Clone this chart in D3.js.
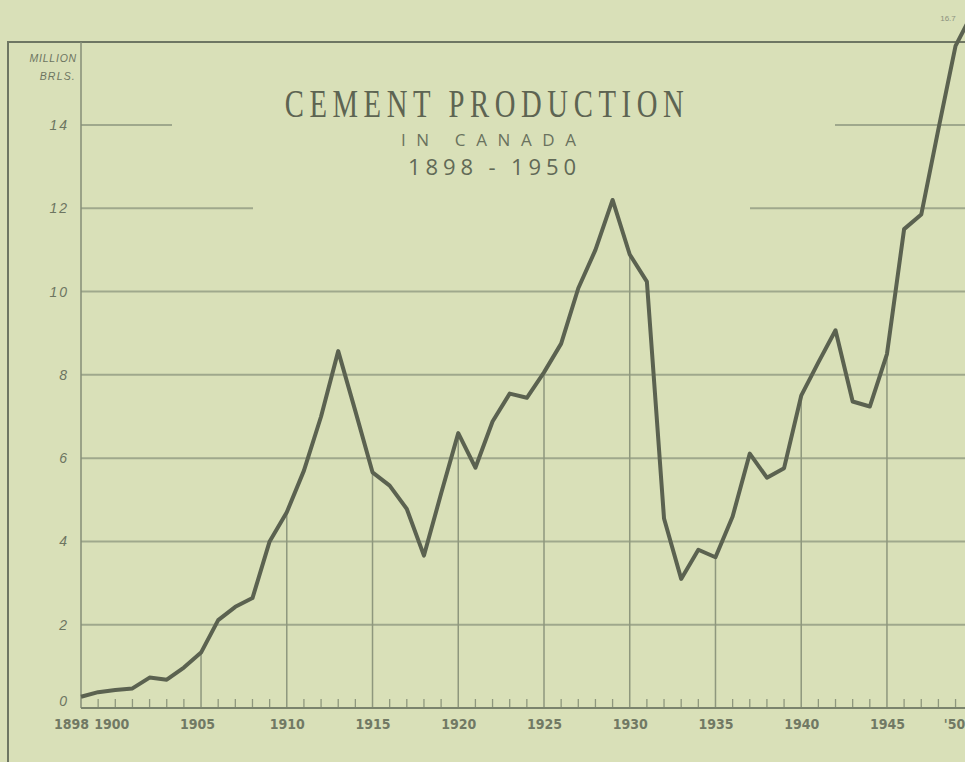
<!DOCTYPE html>
<html>
<head>
<meta charset="utf-8">
<script src="https://cdn.jsdelivr.net/npm/d3@7/dist/d3.min.js"></script>
<style>
  html, body { margin: 0; padding: 0; background: #d9e0b8; }
  svg { display: block; }
</style>
</head>
<body>
<div id="chart"></div>
<script>
// cement production, million barrels, one value per year 1898-1950
const years = d3.range(1898, 1951);
const production = [
  0.27, 0.38, 0.43, 0.47, 0.73, 0.68, 0.97, 1.33, 2.11, 2.43,
  2.64, 4.0, 4.7, 5.7, 7.0, 8.57, 7.13, 5.66, 5.34, 4.78,
  3.66, 5.15, 6.6, 5.77, 6.88, 7.55, 7.45, 8.06, 8.75, 10.08,
  11.0, 12.2, 10.89, 10.24, 4.55, 3.1, 3.8, 3.62, 4.6, 6.11,
  5.53, 5.76, 7.5, 8.3, 9.07, 7.36, 7.24, 8.5, 11.5, 11.85,
  13.9, 15.9, 16.7
];
const yTicks = [0, 2, 4, 6, 8, 10, 12, 14];
const xTicks = [1898, 1900, 1905, 1910, 1915, 1920, 1925, 1930, 1935, 1940, 1945, 1950];
const xTickLabels = ['1898', '1900', '1905', '1910', '1915', '1920', '1925', '1930', '1935', '1940', '1945', "'50"];
const dropYears = [1905, 1910, 1915, 1920, 1925, 1930, 1935, 1940, 1945];
const lastLabel = '16.7';

const data = years.map((yr, i) => ({ year: yr, value: production[i] }));

const width = 965;
const height = 762;
const ink = '#5b6250';
const soft = '#6d7561';
const grid = '#9fa88c';

const svg = d3.select('#chart').append('svg')
  .attr('width', width)
  .attr('height', height);

svg.append('rect')
  .attr('width', width).attr('height', height)
  .attr('fill', '#d9e0b8');

const x = d3.scaleLinear().domain([1898, 1950]).range([81, 972.7]);
const y = d3.scaleLinear().domain([0, 14]).range([708, 125]);

// outer frame (left and top only visible)
svg.append('path')
  .attr('d', `M8,${height} V42 H${width}`)
  .attr('fill', 'none')
  .attr('stroke', '#6e7663')
  .attr('stroke-width', 2);

// horizontal grid, broken where the title sits
const titleGap = { 12: [253, 750], 14: [172, 835] };
yTicks.filter(d => d > 0).forEach((t) => {
  const segs = titleGap[t] ? [[x(1898), titleGap[t][0]], [titleGap[t][1], width]] : [[x(1898), width]];
  segs.forEach((s) => {
    svg.append('line')
      .attr('x1', s[0]).attr('x2', s[1])
      .attr('y1', y(t)).attr('y2', y(t))
      .attr('stroke', grid)
      .attr('stroke-width', 2);
  });
});

// drop lines from the curve every five years
svg.selectAll('.drop')
  .data(data.filter(d => dropYears.includes(d.year)))
  .enter().append('line')
  .attr('class', 'drop')
  .attr('x1', d => x(d.year)).attr('x2', d => x(d.year))
  .attr('y1', d => y(d.value)).attr('y2', y(0))
  .attr('stroke', '#8e977d')
  .attr('stroke-width', 1.5);

// yearly ticks on the base line
svg.selectAll('.yr')
  .data(years.filter(yr => !dropYears.includes(yr) && yr > 1898 && yr < 1950))
  .enter().append('line')
  .attr('class', 'yr')
  .attr('x1', d => x(d)).attr('x2', d => x(d))
  .attr('y1', y(0) - 9).attr('y2', y(0))
  .attr('stroke', '#8e977d')
  .attr('stroke-width', 1.3);

// y axis line and base line
svg.append('line')
  .attr('x1', x(1898)).attr('x2', x(1898))
  .attr('y1', 42).attr('y2', y(0))
  .attr('stroke', '#858e77').attr('stroke-width', 1.5);
svg.append('line')
  .attr('x1', x(1898)).attr('x2', width)
  .attr('y1', y(0)).attr('y2', y(0))
  .attr('stroke', '#7b846d').attr('stroke-width', 2);

// y axis labels
const yAxis = svg.append('g')
  .attr('transform', `translate(${x(1898) - 12},0)`)
  .call(d3.axisLeft(y).tickValues(yTicks).tickSize(0).tickPadding(0));
yAxis.select('.domain').remove();
yAxis.selectAll('text')
  .attr('fill', soft)
  .attr('font-family', 'Liberation Sans, Arial, sans-serif')
  .attr('font-style', 'italic')
  .attr('font-size', 14)
  .attr('letter-spacing', 2)
  .attr('dy', d => (d === 0 ? '-0.2em' : '0.32em'));

svg.append('text')
  .attr('x', 77).attr('y', 62)
  .attr('text-anchor', 'end')
  .attr('fill', soft)
  .attr('font-family', 'Liberation Sans, Arial, sans-serif')
  .attr('font-style', 'italic')
  .attr('font-size', 10.5)
  .attr('letter-spacing', 0.8)
  .text('MILLION');
svg.append('text')
  .attr('x', 76).attr('y', 80)
  .attr('text-anchor', 'end')
  .attr('fill', soft)
  .attr('font-family', 'Liberation Sans, Arial, sans-serif')
  .attr('font-style', 'italic')
  .attr('font-size', 10.5)
  .attr('letter-spacing', 1.2)
  .text('BRLS.');

// x axis labels
const xAxis = svg.append('g')
  .attr('transform', `translate(0,${y(0)})`)
  .call(d3.axisBottom(x).tickValues(xTicks).tickSize(0).tickPadding(11)
    .tickFormat((d, i) => xTickLabels[i]));
xAxis.select('.domain').remove();
xAxis.selectAll('text')
  .attr('fill', '#717964')
  .attr('font-family', 'Liberation Sans Narrow, DejaVu Sans Condensed, sans-serif')
  .attr('font-weight', 'bold')
  .attr('font-size', 14)
  .attr('text-anchor', (d, i) => (i === xTicks.length - 1 ? 'end' : 'middle'))
  .attr('dx', (d, i) => {
    if (i === 0) return -10;
    if (i === 1) return -4;
    if (i === 2) return -4;
    if (i === xTicks.length - 1) return -8;
    return 0;
  });

// the curve
const line = d3.line()
  .x(d => x(d.year))
  .y(d => y(d.value))
  .curve(d3.curveLinear);

svg.append('path')
  .datum(data)
  .attr('fill', 'none')
  .attr('stroke', ink)
  .attr('stroke-width', 4)
  .attr('stroke-linejoin', 'round')
  .attr('d', line);

svg.append('text')
  .attr('x', 948).attr('y', 21)
  .attr('text-anchor', 'middle')
  .attr('fill', '#8c937e')
  .attr('font-family', 'Liberation Sans, Arial, sans-serif')
  .attr('font-size', 8)
  .text(lastLabel);

// title block
const cx = 487;
svg.append('text')
  .attr('transform', `translate(${cx},117) scale(0.7,1)`)
  .attr('text-anchor', 'middle')
  .attr('fill', '#5d6452')
  .attr('font-family', 'Liberation Serif, Times New Roman, serif')
  .attr('font-size', 41)
  .attr('letter-spacing', 8)
  .text('CEMENT PRODUCTION');
svg.append('text')
  .attr('x', cx - 86).attr('y', 146)
  .attr('fill', '#6a725e')
  .attr('font-family', 'Open Sans, Liberation Sans, sans-serif')
  .attr('font-size', 17)
  .attr('textLength', 175)
  .attr('lengthAdjust', 'spacing')
  .text('IN CANADA');
svg.append('text')
  .attr('x', cx - 79).attr('y', 175)
  .attr('fill', '#616956')
  .attr('font-family', 'Open Sans, Liberation Sans, sans-serif')
  .attr('font-size', 22)
  .attr('textLength', 168)
  .attr('lengthAdjust', 'spacing')
  .text('1898 - 1950');
</script>
</body>
</html>
